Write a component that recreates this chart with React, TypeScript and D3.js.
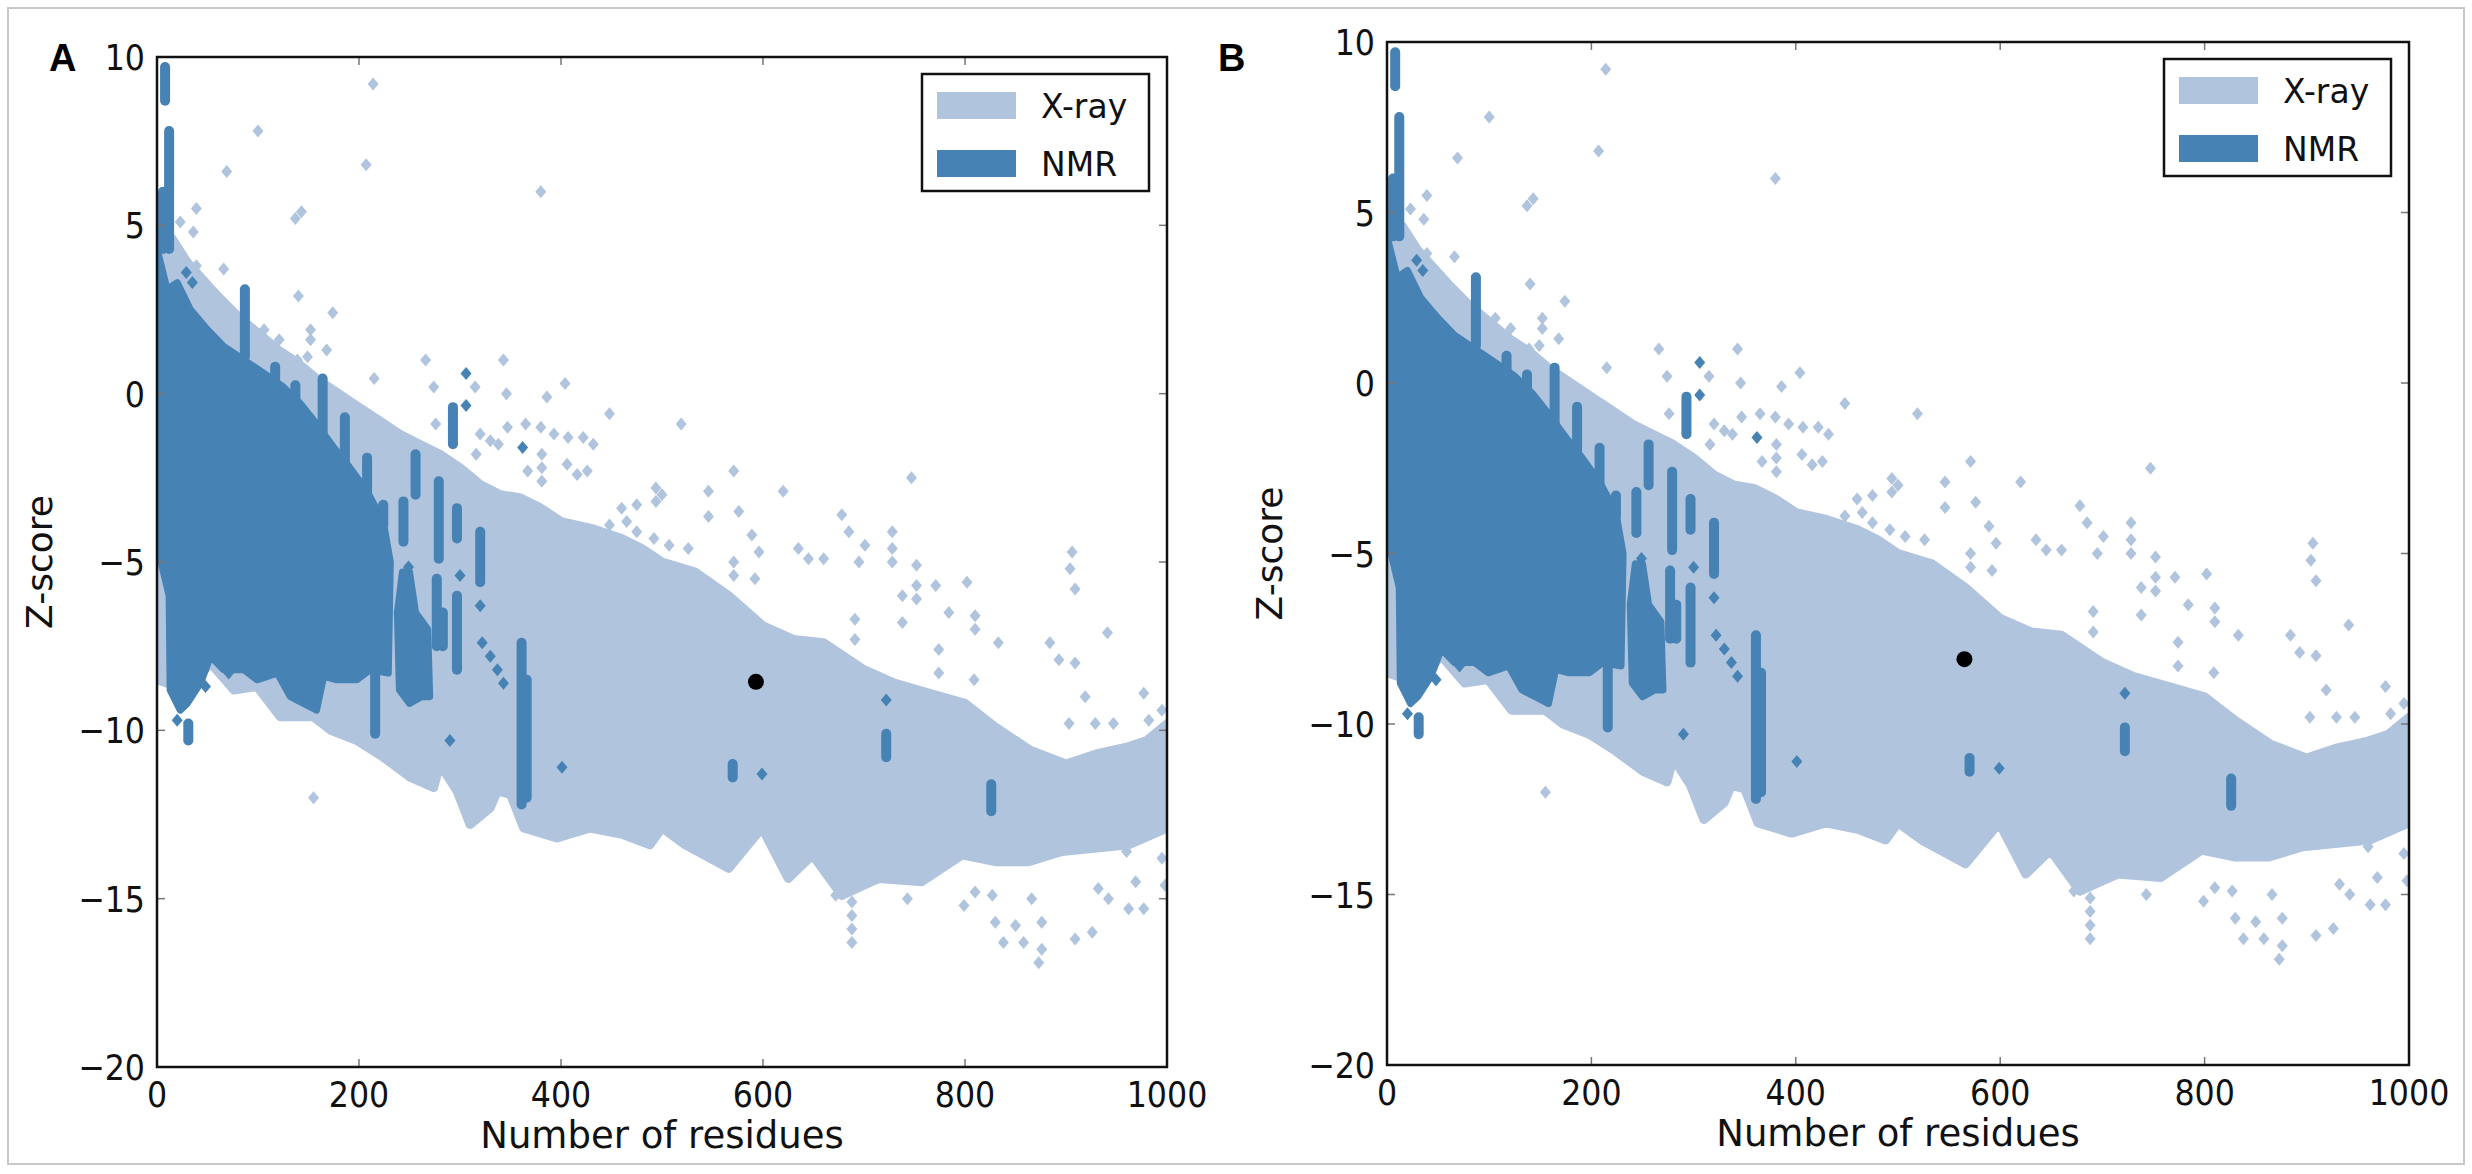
import * as d3 from 'd3';

// Z-score vs. chain length (ProSA-style), two panels sharing the same reference set.
const xTicks = [0, 200, 400, 600, 800, 1000];
const yTicks = [10, 5, 0, -5, -10, -15, -20];

// dense X-ray cloud, upper and lower envelope [residues, z-score]
const xrayUpper: [number, number][] = [
  [0, 5.0], [15, 4.6], [30, 3.9], [45, 3.4], [60, 2.9], [80, 2.3], [100, 1.8],
  [120, 1.3], [140, 0.9], [160, 0.4], [180, 0.0], [200, -0.4], [220, -0.8],
  [240, -1.2], [260, -1.5], [280, -1.8], [300, -2.2], [320, -2.7], [340, -3.0],
  [360, -3.1], [380, -3.4], [400, -3.8], [430, -4.0], [460, -4.3], [480, -4.6],
  [500, -5.0], [533, -5.3], [566, -6.0], [600, -6.9], [630, -7.3], [660, -7.4],
  [700, -8.2], [730, -8.6], [765, -8.9], [800, -9.2], [830, -9.9], [865, -10.6],
  [900, -11.0], [930, -10.7], [960, -10.5], [980, -10.3], [1000, -9.8],
];
const xrayLower: [number, number][] = [
  [0, -8.5], [30, -8.8], [53, -8.0], [76, -8.8], [99, -8.7], [122, -9.6],
  [155, -9.6], [172, -10.0], [198, -10.3], [224, -10.8], [251, -11.4],
  [274, -11.7], [280, -11.0], [297, -11.8], [310, -12.8], [330, -12.3],
  [337, -11.8], [350, -11.9], [363, -12.9], [396, -13.2], [429, -12.9],
  [462, -13.1], [488, -13.4], [500, -12.9], [523, -13.4], [566, -14.1],
  [599, -12.9], [625, -14.4], [649, -13.7], [678, -14.9], [700, -14.6],
  [715, -14.4], [757, -14.5], [797, -13.7], [830, -13.9], [863, -13.9],
  [896, -13.6], [962, -13.4], [1000, -12.9],
];
// scattered X-ray structures outside the dense cloud
const xrayPoints: [number, number][] = [
  [214, 9.2], [100, 7.8], [69, 6.6], [207, 6.8], [380, 6.0], [39, 5.5], [143, 5.4],
  [137, 5.2], [36, 4.8], [23, 5.1], [39, 3.8], [66, 3.7], [140, 2.9], [174, 2.4],
  [106, 1.9], [121, 1.6], [152, 1.9], [152, 1.6], [168, 1.3], [139, 1.0], [149, 1.1],
  [266, 1.0], [343, 1.0], [215, 0.45], [274, 0.2], [315, 0.2], [404, 0.3], [346, 0.0],
  [386, -0.1], [448, -0.6], [276, -0.9], [347, -1.0], [365, -0.9], [380, -1.0],
  [393, -1.2], [407, -1.3], [422, -1.3], [432, -1.5], [320, -1.2], [330, -1.4],
  [338, -1.5], [381, -1.8], [381, -2.2], [381, -2.6], [406, -2.1], [416, -2.4],
  [426, -2.3], [367, -2.3], [316, -1.8], [460, -3.4], [475, -3.3], [494, -2.8],
  [494, -3.2], [465, -3.8], [475, -4.1], [448, -3.9], [492, -4.3],
  [519, -0.9], [571, -2.3], [747, -2.5], [546, -2.9], [620, -2.9], [500, -3.0],
  [678, -3.6], [546, -3.65], [576, -3.5], [589, -4.2], [685, -4.1], [728, -4.1],
  [701, -4.5], [728, -4.6], [507, -4.5], [526, -4.6], [571, -5.0], [635, -4.6],
  [645, -4.9], [660, -4.9], [695, -5.0], [728, -5.0], [752, -5.1], [596, -4.7],
  [571, -5.4], [592, -5.5], [752, -5.7], [771, -5.7], [802, -5.6], [738, -6.0],
  [752, -6.1], [906, -4.7], [904, -5.2], [909, -5.8], [784, -6.5], [810, -6.6],
  [810, -7.0], [738, -6.8], [691, -6.7], [691, -7.3], [941, -7.1], [833, -7.4],
  [774, -7.6], [884, -7.4], [893, -7.9], [909, -8.0], [774, -8.3], [809, -8.5],
  [919, -9.0], [977, -8.9], [820, -9.7], [903, -9.8], [929, -9.8], [947, -9.8],
  [982, -9.7], [995, -9.4],
  [155, -12.0], [743, -15.0], [799, -15.2], [810, -14.8], [827, -14.9], [830, -15.7],
  [838, -16.3], [850, -15.8], [858, -16.3], [866, -15.0], [873, -16.9], [876, -15.7],
  [876, -16.5], [909, -16.2], [926, -16.0], [962, -15.3], [977, -15.3], [969, -14.5],
  [942, -15.0], [932, -14.7], [688, -15.1], [688, -15.5], [688, -15.9], [688, -16.3],
  [678, -14.7], [672, -14.9], [940, -11.0], [955, -12.2], [970, -11.5], [985, -12.8],
  [995, -13.8], [998, -14.6], [990, -11.0], [1000, -10.3], [960, -13.6], [945, -13.0],
];

// NMR: main block of small proteins
const nmrOutline: [number, number][] = [
  [0, 4.3], [10, 3.1], [20, 3.3], [33, 2.5], [50, 1.9], [66, 1.4], [86, 1.0],
  [106, 0.6], [125, 0.2], [142, -0.3], [158, -0.9], [175, -1.6], [191, -2.2],
  [208, -2.9], [224, -3.8], [231, -5.0], [229, -8.3], [211, -8.2], [198, -8.5],
  [178, -8.5], [165, -8.4], [158, -9.4], [145, -9.2], [132, -9.0], [119, -8.3],
  [99, -8.5], [86, -8.2], [66, -8.2], [53, -7.8], [43, -8.6], [30, -9.2],
  [23, -9.4], [13, -8.8], [12, -6.0], [4, -5.0], [0, -3.0],
];
const nmrBlob: [number, number][] = [
  [243, -5.3], [250, -5.3], [256, -6.5], [268, -7.0], [270, -9.0], [262, -9.0],
  [250, -9.2], [240, -8.8], [238, -6.5],
];
// vertical runs of NMR models: [residues, top z, bottom z]
const nmrStreaks: [number, number, number][] = [
  [8, 9.7, 8.7], [12, 7.8, 4.3], [6, 6.0, 4.3], [87, 3.1, 1.1], [117, 0.8, 0],
  [137, 0.25, -0.5], [164, 0.45, -1.2], [186, -0.7, -2.1], [208, -1.9, -3.1],
  [224, -3.3, -3.9], [216, -8.2, -10.1], [31, -9.8, -10.3], [244, -3.2, -4.4],
  [256, -1.8, -3.0], [279, -2.6, -4.9], [277, -5.5, -7.5], [283, -6.5, -7.5],
  [293, -0.4, -1.5], [297, -3.4, -4.3], [297, -6.0, -8.2], [320, -4.1, -5.6],
  [361, -7.4, -12.2], [366, -8.5, -12.0], [570, -11.0, -11.4], [722, -10.1, -10.8],
  [826, -11.6, -12.4],
];
const nmrPoints: [number, number][] = [
  [29, 3.6], [35, 3.3], [58, 1.6], [20, -9.7], [48, -8.7], [71, -8.3], [249, -5.15],
  [300, -5.4], [306, 0.6], [306, -0.35], [320, -6.3], [290, -10.3], [362, -1.6],
  [401, -11.1], [322, -7.4], [330, -7.8], [337, -8.2], [343, -8.6], [599, -11.3],
  [722, -9.1], [247, -9.0],
];

const LIGHT = '#b0c4de';
const DARK = '#4682b4';
const FONT = '"DejaVu Sans", sans-serif';

type Frame = {
  id: string;
  letter: string;
  letterX: number;
  left: number;
  top: number;
  width: number;
  height: number;
  target: [number, number];
};

const panels: Frame[] = [
  { id: 'a', letter: 'A', letterX: 49, left: 157, top: 57, width: 1010, height: 1010, target: [593, -8.56] },
  { id: 'b', letter: 'B', letterX: 1218, left: 1387, top: 42, width: 1022, height: 1023, target: [565, -8.1] },
];

function diamond(cx: number, cy: number, w = 5.5, h = 6.5) {
  return `M${cx},${cy - h}L${cx + w},${cy}L${cx},${cy + h}L${cx - w},${cy}Z`;
}

function Panel({ f }: { f: Frame }) {
  const x = d3.scaleLinear().domain([0, 1000]).range([f.left, f.left + f.width]);
  const y = d3.scaleLinear().domain([-20, 10]).range([f.top + f.height, f.top]);
  const bottom = f.top + f.height;
  const right = f.left + f.width;

  const poly = d3
    .line<[number, number]>()
    .x((d) => x(d[0]))
    .y((d) => y(d[1]))
    .curve(d3.curveLinearClosed);

  const xrayShape = [...xrayUpper, ...xrayLower.slice().reverse()];
  const tickLen = 8;
  const lgX = right - 18 - 227;
  const lgY = f.top + 17;

  return (
    <g>
      <defs>
        <clipPath id={`clip-${f.id}`}>
          <rect x={f.left} y={f.top} width={f.width} height={f.height} />
        </clipPath>
      </defs>
      <g clipPath={`url(#clip-${f.id})`}>
        <path d={poly(xrayShape) ?? ''} fill={LIGHT} stroke={LIGHT} strokeWidth={9} strokeLinejoin='round' />
        {xrayPoints.map((p, i) => (
          <path key={'x' + i} d={diamond(x(p[0]), y(p[1]))} fill={LIGHT} />
        ))}
        <path d={poly(nmrOutline) ?? ''} fill={DARK} stroke={DARK} strokeWidth={7} strokeLinejoin='round' />
        <path d={poly(nmrBlob) ?? ''} fill={DARK} stroke={DARK} strokeWidth={7} strokeLinejoin='round' />
        {nmrStreaks.map((s, i) => (
          <line
            key={'s' + i}
            x1={x(s[0])}
            x2={x(s[0])}
            y1={y(s[1])}
            y2={y(s[2])}
            stroke={DARK}
            strokeWidth={10}
            strokeLinecap='round'
          />
        ))}
        {nmrPoints.map((p, i) => (
          <path key={'n' + i} d={diamond(x(p[0]), y(p[1]))} fill={DARK} />
        ))}
        <circle cx={x(f.target[0])} cy={y(f.target[1])} r={8} fill='#000' />
      </g>

      {/* ticks point inward on all four sides */}
      {xTicks.map((t) => (
        <g key={'xt' + t}>
          <line x1={x(t)} x2={x(t)} y1={bottom} y2={bottom - tickLen} stroke='#777' strokeWidth={1.5} />
          <line x1={x(t)} x2={x(t)} y1={f.top} y2={f.top + tickLen} stroke='#777' strokeWidth={1.5} />
          <text
            transform={`translate(${x(t)},${bottom + 40}) scale(0.88,1)`}
            textAnchor='middle'
            fontFamily={FONT}
            fontSize={36}
            fill='#111'
          >
            {t}
          </text>
        </g>
      ))}
      {yTicks.map((t) => (
        <g key={'yt' + t}>
          <line x1={f.left} x2={f.left + tickLen} y1={y(t)} y2={y(t)} stroke='#777' strokeWidth={1.5} />
          <line x1={right} x2={right - tickLen} y1={y(t)} y2={y(t)} stroke='#777' strokeWidth={1.5} />
          <text
            transform={`translate(${f.left - 12},${y(t) + 13}) scale(0.88,1)`}
            textAnchor='end'
            fontFamily={FONT}
            fontSize={36}
            fill='#111'
          >
            {t < 0 ? `\u2212${-t}` : t}
          </text>
        </g>
      ))}

      <rect x={f.left} y={f.top} width={f.width} height={f.height} fill='none' stroke='#111' strokeWidth={2.5} />

      <text x={(f.left + right) / 2} y={bottom + 81} textAnchor='middle' fontFamily={FONT} fontSize={37} fill='#111'>
        Number of residues
      </text>
      <text
        transform={`translate(${f.left - 105},${(f.top + bottom) / 2}) rotate(-90)`}
        textAnchor='middle'
        fontFamily={FONT}
        fontSize={36}
        fill='#111'
      >
        Z-score
      </text>
      <text x={f.letterX} y={71} fontFamily='"Liberation Sans", Arial, sans-serif' fontWeight='bold' fontSize={38} fill='#000'>
        {f.letter}
      </text>

      {/* legend */}
      <rect x={lgX} y={lgY} width={227} height={117} fill='#fff' stroke='#111' strokeWidth={2.5} />
      <rect x={lgX + 15} y={lgY + 18} width={79} height={27} fill={LIGHT} />
      <rect x={lgX + 15} y={lgY + 76} width={79} height={27} fill={DARK} />
      <text x={lgX + 119} y={lgY + 44} fontFamily={FONT} fontSize={33} fill='#111'>
        X-ray
      </text>
      <text x={lgX + 119} y={lgY + 102} fontFamily={FONT} fontSize={33} fill='#111'>
        NMR
      </text>
    </g>
  );
}

export default function App() {
  return (
    <svg
      width={2472}
      height={1174}
      style={{ position: 'absolute', left: 0, top: 0, background: '#fff' }}
    >
      <rect x={0} y={0} width={2472} height={1174} fill='#fff' />
      <rect x={8} y={8} width={2456} height={1156} fill='none' stroke='#c8c8c8' strokeWidth={2} />
      {panels.map((f) => (
        <Panel key={f.id} f={f} />
      ))}
    </svg>
  );
}
